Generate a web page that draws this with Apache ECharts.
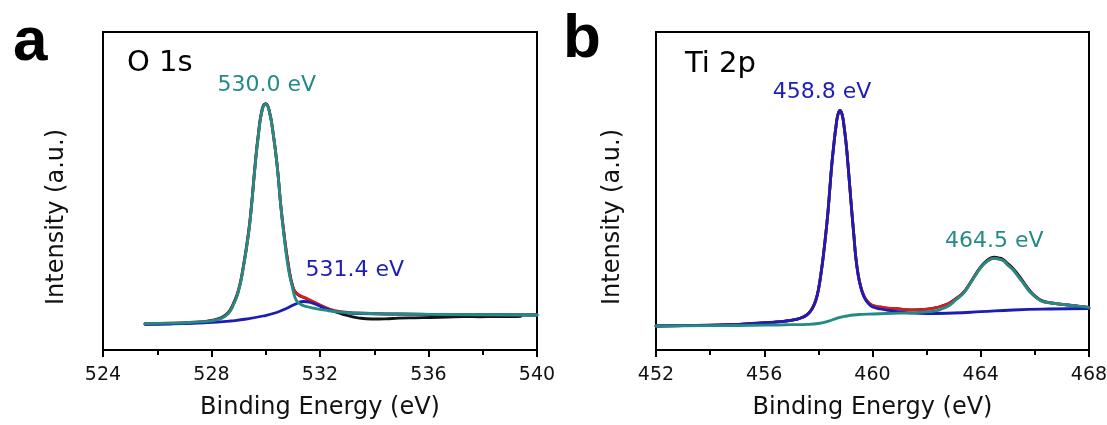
<!DOCTYPE html>
<html>
<head>
<meta charset="utf-8">
<script src="https://cdn.jsdelivr.net/npm/echarts/dist/echarts.min.js"></script>
<style>
  html, body { margin: 0; padding: 0; background: #fff; }
  #chart { width: 1107px; height: 425px; }
</style>
</head>
<body>
<div id="chart"></div>
<script>
// Axis ranges (binding energy in eV, intensity in arbitrary units)
const energyStep = 4;
const oxygenRange = [524, 540];
const titaniumRange = [452, 468];
const intensityRange = [0, 318];

// ---- O 1s ----
const oxygenRaw = [
  [525.55, 26], [526.2, 26.3], [526.8, 26.6], [527.4, 27.4], [528.0, 29.6], [528.37, 32.4],
  [528.62, 37.6], [528.8, 46.2], [528.99, 59.6], [529.17, 83.2], [529.36, 116.8], [529.48, 146.8],
  [529.6, 183.4], [529.73, 216.6], [529.87, 241.2], [530.0, 246.4], [530.12, 240.4], [530.28, 215.4],
  [530.43, 182.2], [530.55, 146], [530.67, 117], [530.83, 86], [530.99, 64], [531.14, 56.4],
  [531.5, 51.2], [531.9, 46], [532.3, 41], [532.7, 37], [533.0, 34.5], [533.4, 32.2],
  [533.9, 31], [534.4, 31.2], [534.9, 31.8], [535.5, 32.2], [536.1, 32.5], [536.7, 33],
  [537.3, 33.4], [537.9, 33.2], [538.5, 33.5], [539.1, 33.4], [539.4, 33.6]
];
const oxygenEnvelope = [
  [525.55, 26.3], [526.5, 26.8], [527.2, 27.5], [527.6, 28.2], [528.0, 29.2], [528.37, 31.7],
  [528.62, 36.7], [528.8, 45], [528.99, 58.3], [529.17, 81.7], [529.36, 115], [529.48, 145],
  [529.6, 181.7], [529.73, 215], [529.87, 240], [530.0, 245.7], [530.12, 240], [530.28, 215],
  [530.43, 181.7], [530.55, 145.5], [530.67, 116.5], [530.83, 85], [530.99, 64], [531.14, 56.7],
  [531.5, 51.7], [531.88, 46.7], [532.37, 40.7], [532.86, 38], [533.3, 37], [534.8, 36],
  [536.5, 35.5], [540, 35]
];
const oxygenLattice = [   // 530.0 eV component
  [525.55, 26.3], [526.5, 26.8], [527.2, 27.5], [527.6, 28.2], [528.0, 29.2], [528.37, 31.7],
  [528.62, 36.7], [528.8, 45], [528.99, 58.3], [529.17, 81.7], [529.36, 115], [529.48, 145],
  [529.6, 181.7], [529.73, 215], [529.87, 240], [530.0, 245.7], [530.12, 240], [530.28, 215],
  [530.43, 181.7], [530.55, 145], [530.67, 115], [530.83, 81.7], [530.99, 61.7], [531.12, 50],
  [531.3, 45.5], [531.5, 43.5], [531.8, 41.7], [532.2, 39.8], [532.6, 38.3], [533.3, 37],
  [534.8, 36], [536.5, 35.5], [540, 35]
];
const oxygenDefect = [    // 531.4 eV component
  [525.55, 25.7], [526.5, 26], [527.5, 26.8], [528.2, 27.8], [528.7, 29], [529.3, 31],
  [529.9, 34], [530.4, 37.5], [530.8, 42], [531.1, 46], [531.4, 48.5], [531.65, 47.5],
  [531.9, 45], [532.2, 41.5], [532.5, 39], [532.9, 37.3], [533.5, 36.3], [535, 35.8],
  [537, 35.4], [540, 35]
];

// ---- Ti 2p ----
const titaniumRaw = [
  [452, 24.2], [453, 24.4], [453.9, 24.8], [454.8, 25.3], [455.7, 26.8], [456.2, 27.6],
  [456.6, 28.3], [456.9, 29.5], [457.2, 30.9], [457.4, 32.5], [457.57, 35.2], [457.7, 38.7],
  [457.81, 43.5], [457.91, 50.3], [458.0, 60.4], [458.09, 75.5], [458.18, 93.8], [458.27, 115.5],
  [458.35, 137.2], [458.42, 160.5], [458.49, 183.8], [458.57, 205.5], [458.65, 223.8], [458.72, 235.4],
  [458.8, 239.6], [458.88, 235.4], [458.95, 223.6], [459.03, 205.4], [459.1, 183.7], [459.17, 160.4],
  [459.24, 137.1], [459.31, 115.4], [459.38, 93.7], [459.47, 75.6], [459.56, 64], [459.67, 55],
  [459.79, 49.4], [459.9, 46.2], [460.03, 44.1], [460.3, 42.8], [460.6, 41.6], [460.9, 41.3],
  [461.2, 40.4], [461.5, 40.1], [461.8, 40.5], [462.1, 41.1], [462.37, 42.5], [462.6, 44.4],
  [462.86, 47.3], [463.1, 51.8], [463.36, 57.6], [463.6, 66.8], [463.85, 77.4], [464.05, 84.8],
  [464.22, 89.3], [464.38, 92.2], [464.5, 92.8], [464.65, 92.2], [464.84, 90.4], [465.0, 86.4],
  [465.2, 81.4], [465.4, 74.6], [465.58, 68], [465.76, 61.2], [465.94, 55.8], [466.12, 51.6],
  [466.31, 48.8], [466.6, 47.2], [466.9, 45.9], [467.2, 45.1], [467.6, 43.9], [467.9, 42.9]
];
const titaniumEnvelope = [
  [452, 24], [453, 24.3], [453.9, 24.7], [454.8, 25.4], [455.7, 26.7], [456.2, 27.5],
  [456.6, 28.3], [456.9, 29.3], [457.2, 30.7], [457.4, 32.5], [457.57, 35], [457.7, 38.5],
  [457.81, 43.3], [457.91, 50], [458.0, 60], [458.09, 75], [458.18, 93.3], [458.27, 115],
  [458.35, 136.7], [458.42, 160], [458.49, 183.3], [458.57, 205], [458.65, 223.3], [458.72, 235],
  [458.8, 239.3], [458.88, 235], [458.95, 223.3], [459.03, 205], [459.1, 183.3], [459.17, 160],
  [459.24, 136.7], [459.31, 115], [459.38, 93.3], [459.47, 75.3], [459.56, 63.8], [459.67, 54.8],
  [459.79, 49.3], [459.9, 46.3], [460.03, 44.3], [460.3, 43], [460.6, 41.8], [460.9, 41.2],
  [461.2, 40.6], [461.5, 40.2], [461.8, 40.3], [462.1, 41], [462.37, 42.3], [462.6, 44.2],
  [462.86, 47], [463.1, 51.5], [463.36, 57.2], [463.6, 66.2], [463.85, 76.9], [464.05, 84.1],
  [464.22, 88.4], [464.38, 91.1], [464.5, 91.8], [464.65, 91.1], [464.84, 89.4], [465.0, 85.1],
  [465.2, 80.1], [465.4, 73.1], [465.58, 66.8], [465.76, 60.1], [465.94, 55.1], [466.12, 51.1],
  [466.31, 48.4], [466.6, 47], [466.9, 46], [467.2, 45], [467.6, 43.8], [468, 42.7]
];
const titanium2p32 = [    // 458.8 eV component
  [452, 24], [453, 24.3], [453.9, 24.7], [454.8, 25.4], [455.7, 26.7], [456.2, 27.5],
  [456.6, 28.3], [456.9, 29.3], [457.2, 30.7], [457.4, 32.5], [457.57, 35], [457.7, 38.5],
  [457.81, 43.3], [457.91, 50], [458.0, 60], [458.09, 75], [458.18, 93.3], [458.27, 115],
  [458.35, 136.7], [458.42, 160], [458.49, 183.3], [458.57, 205], [458.65, 223.3], [458.72, 235],
  [458.8, 239.3], [458.88, 235], [458.95, 223.3], [459.03, 205], [459.1, 183.3], [459.17, 160],
  [459.24, 136.7], [459.31, 115], [459.38, 93.3], [459.47, 75], [459.56, 63.3], [459.67, 54],
  [459.79, 48.3], [459.9, 45], [460.03, 42.7], [460.3, 41], [460.6, 39.6], [461.0, 38.2],
  [461.5, 36.8], [462.0, 36.4], [463.0, 37], [464.0, 38.3], [465.2, 40], [466.5, 41],
  [468, 41.5]
];
const titanium2p12 = [    // 464.5 eV component
  [452, 24], [454, 24.3], [456, 24.8], [457, 25.3], [457.6, 25.6], [458, 26.5],
  [458.31, 28.3], [458.55, 30.5], [458.8, 32.7], [459.05, 34], [459.29, 35], [459.6, 35.6],
  [460.03, 36], [460.5, 36.5], [461.0, 36.9], [461.51, 37.2], [462.0, 38.2], [462.37, 39.3],
  [462.6, 41.5], [462.86, 45], [463.1, 50.5], [463.36, 56.7], [463.6, 66], [463.85, 76.7],
  [464.05, 84], [464.22, 88.3], [464.38, 91], [464.5, 91.7], [464.65, 91], [464.84, 89.3],
  [465.0, 85], [465.2, 80], [465.4, 73], [465.58, 66.7], [465.76, 60], [465.94, 55],
  [466.12, 51], [466.31, 48.3], [466.6, 47], [466.9, 46], [467.2, 45], [467.6, 43.8],
  [468, 42.7]
];

const COLORS = { raw: '#141414', envelope: '#d61e1e', blue: '#1c1cb6', teal: '#228b86' };
const FONT = 'DejaVu Sans';

// Label a fitted component at its peak energy; the height comes from the series itself.
function peakMark(energy, data, color, offset) {
  const hit = data.reduce((a, b) => Math.abs(b[0] - energy) < Math.abs(a[0] - energy) ? b : a);
  return {
    symbol: 'circle', symbolSize: 1, itemStyle: { color: 'transparent' },
    silent: true, animation: false,
    label: {
      show: true, position: 'inside', offset: offset, color: color,
      fontFamily: FONT, fontSize: 22,
      formatter: () => energy.toFixed(1) + ' eV'
    },
    data: [{ coord: [energy, hit[1]] }]
  };
}

function curve(name, data, color, idx, mark) {
  const s = {
    name, type: 'line', xAxisIndex: idx, yAxisIndex: idx, data,
    symbol: 'none', showSymbol: false, smooth: 0.5,
    lineStyle: { color, width: 2.8, join: 'round', cap: 'round' }, itemStyle: { color },
    silent: true, animation: false
  };
  if (mark) s.markPoint = mark;
  return s;
}

function xAxisFor(idx, range) {
  return {
    type: 'value', gridIndex: idx, min: range[0], max: range[1], interval: energyStep,
    name: 'Binding Energy (eV)', nameLocation: 'middle', nameGap: 46,
    nameTextStyle: { fontFamily: FONT, fontSize: 24, color: '#111' },
    axisLine: { show: true, onZero: false, lineStyle: { color: '#000', width: 2 } },
    axisTick: { show: true, inside: false, length: 7, lineStyle: { color: '#000', width: 2 } },
    minorTick: { show: true, splitNumber: 2, length: 5, lineStyle: { color: '#000', width: 2 } },
    axisLabel: { margin: 16, fontFamily: FONT, fontSize: 19, color: '#111', showMinLabel: true, showMaxLabel: true },
    splitLine: { show: false }
  };
}

function yAxisFor(idx, gap) {
  return {
    type: 'value', gridIndex: idx, min: intensityRange[0], max: intensityRange[1],
    name: 'Intensity (a.u.)', nameLocation: 'middle', nameGap: gap,
    nameTextStyle: { fontFamily: FONT, fontSize: 24, color: '#111', padding: [0, 52, 0, 0] },
    axisLine: { show: false }, axisTick: { show: false }, axisLabel: { show: false },
    splitLine: { show: false }
  };
}

const gridBase = { top: 32, height: 318, show: true, borderColor: '#000', borderWidth: 2,
  backgroundColor: 'transparent', containLabel: false, outerBoundsMode: 'none' };

const option = {
  backgroundColor: '#fff',
  animation: false,
  title: [
    { text: 'a', left: 8, top: 7, textStyle: { fontFamily: 'Liberation Sans', fontWeight: 'bold', fontSize: 62, color: '#000' } },
    { text: 'b', left: 558, top: 4, textStyle: { fontFamily: 'Liberation Sans', fontWeight: 'bold', fontSize: 62, color: '#000' } },
    { text: 'O 1s', left: 122, top: 44, textStyle: { fontFamily: FONT, fontWeight: 'normal', fontSize: 29, color: '#000' } },
    { text: 'Ti 2p', left: 680, top: 45, textStyle: { fontFamily: FONT, fontWeight: 'normal', fontSize: 29, color: '#000' } }
  ],
  grid: [
    Object.assign({ left: 103, width: 434 }, gridBase),
    Object.assign({ left: 656, width: 433 }, gridBase)
  ],
  xAxis: [xAxisFor(0, oxygenRange), xAxisFor(1, titaniumRange)],
  yAxis: [yAxisFor(0, 34), yAxisFor(1, 31)],
  series: [
    curve('O 1s raw', oxygenRaw, COLORS.raw, 0),
    curve('O 1s envelope', oxygenEnvelope, COLORS.envelope, 0),
    curve('O 1s 531.4', oxygenDefect, COLORS.blue, 0, peakMark(531.4, oxygenDefect, COLORS.blue, [51, -31])),
    curve('O 1s 530.0', oxygenLattice, COLORS.teal, 0, peakMark(530.0, oxygenLattice, COLORS.teal, [1, -19])),
    curve('Ti 2p raw', titaniumRaw, COLORS.raw, 1),
    curve('Ti 2p envelope', titaniumEnvelope, COLORS.envelope, 1),
    curve('Ti 2p 458.8', titanium2p32, COLORS.blue, 1, peakMark(458.8, titanium2p32, COLORS.blue, [-18, -18])),
    // drawn last so its baseline sits on top of the 458.8 eV component
    curve('Ti 2p 464.5', titanium2p12, COLORS.teal, 1, peakMark(464.5, titanium2p12, COLORS.teal, [0, -17]))
  ]
};

const chart = echarts.init(document.getElementById('chart'), null, { renderer: 'canvas' });
chart.setOption(option);
</script>
</body>
</html>
